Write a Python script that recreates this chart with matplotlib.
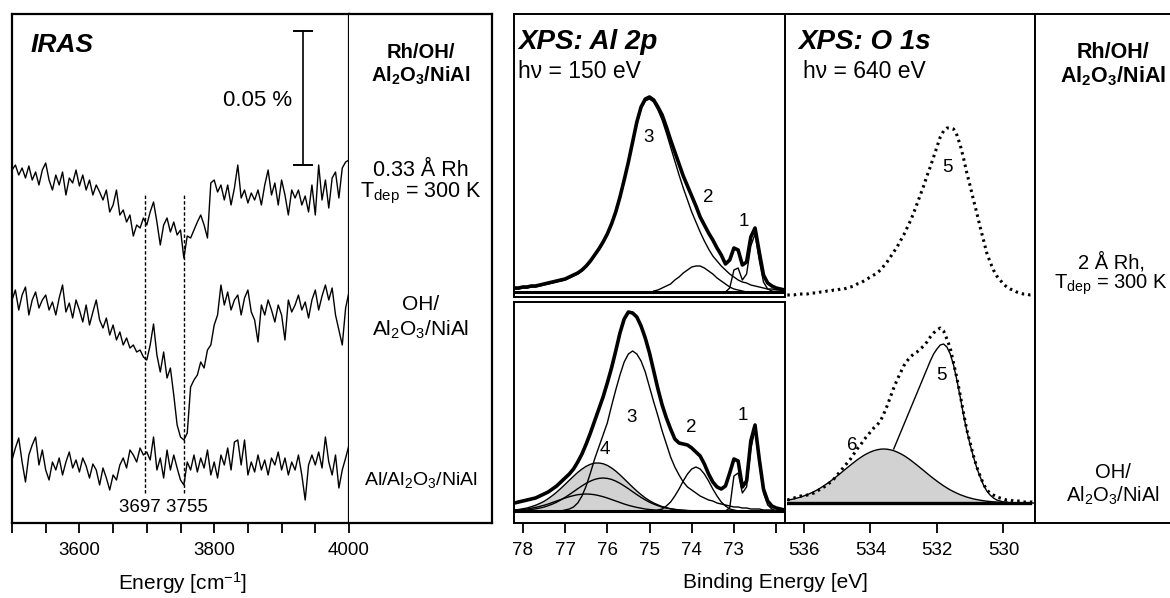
import numpy as np
import matplotlib
matplotlib.use("Agg")
import matplotlib.pyplot as plt
from matplotlib.ticker import MultipleLocator

plt.rcParams['font.family'] = ['Liberation Sans', 'DejaVu Sans']
plt.rcParams['mathtext.fontset'] = 'custom'
plt.rcParams['mathtext.rm'] = 'Liberation Sans'
plt.rcParams['mathtext.it'] = 'Liberation Sans:italic'
plt.rcParams['mathtext.bf'] = 'Liberation Sans:bold'

# ---------------- IRAS (3500 -> 4000 cm-1, every 5 cm-1) ----------------
IR_START, IR_STEP = 3500, 5
ir_rh = [10, 15, 5, 12, 2, 14, 0, 8, -5, 10,
         17, 0, -10, 5, -5, 8, -15, 2, -3, 10,
         -6, 5, -10, 0, -15, -5, -12, -20, -10, -32,
         -25, -10, -35, -30, -42, -35, -56, -45, -48, -38,
         -45, -32, -22, -42, -65, -45, -38, -52, -42, -55,
         -50, -78, -56, -58, -50, -42, -35, -45, -58, -3,
         0, -12, -5, -20, -5, -25, -8, 15, -18, -10,
         -23, -13, -20, -10, -25, -5, 10, -15, -3, -25,
         0, -15, -35, -10, -18, -10, -25, -16, -32, -5,
         -35, 15, -20, 0, -28, 2, 8, -18, 12, 18,
         20]
ir_oh = [5, 15, -5, 10, 18, -10, 5, 13, -3, 5,
         10, -5, 3, -10, 7, 20, -7, 2, -13, 5,
         -5, -17, 0, -20, -7, 5, -15, -23, -13, -30,
         -20, -35, -27, -40, -33, -43, -40, -47, -45, -52,
         -55, -40, -19, -50, -67, -47, -73, -63, -90, -120,
         -132, -135, -128, -82, -75, -70, -57, -63, -45, -40,
         -20, -10, 20, 0, 13, -5, 5, 10, -10, 7,
         15, -7, -15, -37, 0, -10, 5, -5, -17, 0,
         -10, -35, 5, -7, 0, 10, -5, 3, -13, 5,
         15, -5, 9, 20, 5, 17, -10, -25, -40, -3,
         13]
ir_al = [7, 19, 29, 5, -15, 12, 22, 30, 2, 17,
         -3, -13, 5, -3, 9, -8, 5, 15, -1, 7,
         -5, 9, 1, -11, 3, -3, -18, -1, -11, -23,
         -8, -13, 2, 9, -1, 17, 12, 5, 19, 12,
         15, 7, 30, -3, 9, -11, 17, -3, 12, -1,
         -13, -18, 5, -3, 12, -5, 9, -1, 17, -8,
         5, -11, 12, 2, 19, -3, 25, 27, 2, 27,
         -8, 5, -5, 12, -3, 7, -8, 9, 2, 15,
         -3, 9, -8, 5, -3, 12, -8, -33, 2, 12,
         2, 15, -1, 30, 5, -8, 12, -21, -3, 9,
         22]
ir_offsets = [343, 218, 56]
ir_bands = [3697, 3755]
ir_scale = 134          # length of the 0.05 % bar in plot units

# ---------------- XPS Al 2p (binding energy, 0.1 eV steps) ----------------
AL_START = 78.2
al_top = [4, 4, 5, 5, 6, 6, 7, 8, 9, 10,
          11, 12, 13, 15, 17, 19, 22, 26, 31, 37,
          43, 50, 58, 68, 80, 95, 112, 130, 150, 170,
          185, 193, 195, 192, 185, 177, 165, 152, 140, 128,
          116, 106, 96, 86, 75, 67, 59, 52, 44, 37,
          28, 32, 44, 42, 27, 30, 55, 64, 40, 17,
          9, 6, 4, 3, 2]
al_top_c3 = [3, 3, 4, 4, 5, 5, 6, 7, 8, 9,
             10, 11, 12, 14, 16, 18, 21, 25, 30, 36,
             42, 49, 57, 67, 79, 94, 111, 129, 149, 168,
             183, 191, 193, 190, 182, 172, 159, 145, 131, 117,
             104, 92, 80, 70, 60, 51, 43, 36, 31, 26,
             22, 18, 15, 12, 10, 9, 7, 6, 5, 4,
             3, 3, 2, 2, 1]
al_top_c2 = (74.9, [1, 2, 4, 6, 8, 12, 15, 19, 22, 25, 26, 26, 24, 21, 18,
                    14, 11, 8, 5, 3, 2, 1, 0])
al_top_c1 = (73.2, [0, 4, 22, 24, 12, 18, 46, 58, 32, 10, 3, 1, 0])

al_bot = [8, 9, 10, 11, 12, 13, 15, 17, 19, 22,
          25, 29, 33, 37, 42, 49, 57, 67, 78, 90,
          102, 114, 128, 143, 160, 178, 192, 199, 198, 194,
          185, 173, 158, 140, 122, 106, 93, 82, 72, 68,
          67, 66, 63, 59, 55, 47, 37, 29, 24, 22,
          25, 38, 52, 50, 24, 30, 70, 86, 52, 22,
          10, 5, 3, 2, 1]
al_bot_c3 = (77.2, [0, 0, 1, 2, 4, 8, 15, 25, 38, 52,
                    64, 76, 88, 105, 121, 136, 149, 157, 160, 157,
                    150, 139, 124, 109, 95, 80, 67, 54, 44, 36,
                    29, 24, 21, 18, 15, 13, 11, 10, 8, 7,
                    6, 5, 4, 4, 3, 3, 2, 2, 2, 1, 1, 1, 0])
al_bot_c2 = (74.8, [1, 2, 5, 9, 15, 22, 30, 37, 42, 44, 42, 37, 30, 22, 15,
                    9, 5, 2, 1, 0])
al_bot_c1 = (73.2, [0, 3, 35, 38, 18, 24, 62, 82, 48, 18, 6, 2, 0])
al_bot_c4a = [0.3, 0.4, 0.7, 1.0, 1.5, 2.1, 2.9, 3.9, 5.3, 6.9,
              8.8, 11.1, 13.6, 16.4, 19.3, 22.3, 25.1, 27.7, 29.9, 31.6,
              32.6, 33, 32.6, 31.6, 29.9, 27.7, 25.1, 22.3, 19.3, 16.4,
              13.6, 11.1, 8.8, 6.9, 5.3, 3.9, 2.9, 2.1, 1.5, 1.0,
              0.7, 0.4, 0.3, 0.2, 0.1, 0]
al_bot_c4b = [0.8, 1.1, 1.5, 2.0, 2.8, 3.6, 4.6, 5.7, 7.0, 8.5,
              10, 11.5, 13, 14.3, 15.4, 16.3, 16.8, 17, 16.8, 16.3,
              15.4, 14.3, 13, 11.5, 10, 8.5, 7, 5.7, 4.6, 3.6,
              2.8, 2.0, 1.5, 1.1, 0.8, 0.5, 0.4, 0.2, 0.1, 0,
              0, 0, 0, 0, 0, 0]

# ---------------- XPS O 1s ----------------
O_START = 536.5
o_top = [2, 2, 2, 3, 3, 3, 3, 4, 4, 4,
         5, 5, 6, 6, 7, 7, 8, 8, 9, 10,
         11, 13, 14, 16, 18, 20, 22, 24, 27, 31,
         35, 40, 45, 50, 56, 62, 69, 76, 84, 93,
         102, 111, 121, 130, 140, 150, 160, 166, 169, 169,
         168, 162, 152, 139, 124, 111, 97, 84, 70, 57,
         44, 35, 27, 21, 17, 13, 10, 8, 7, 5,
         4, 3, 3, 2, 2]
o_bot = [3, 4, 5, 6, 7, 7, 8, 9, 10, 12,
         14, 16, 18, 21, 24, 28, 32, 36, 40, 44,
         49, 54, 58, 63, 67, 71, 75, 78, 82, 89,
         97, 106, 115, 123, 130, 137, 142, 146, 149, 151,
         154, 157, 161, 166, 170, 173, 175, 172, 164, 155,
         140, 125, 108, 90, 73, 60, 47, 36, 27, 19,
         13, 10, 8, 6, 5, 4, 3, 3, 2, 2,
         2, 1, 1, 1, 1]
o_c6 = [2.8, 3.4, 4.1, 5.0, 5.9, 7.1, 8.3, 9.8, 11.4, 13.1,
        15.1, 17.2, 19.5, 21.9, 24.4, 27.0, 29.7, 32.5, 35.2, 37.9,
        40.5, 43.1, 45.4, 47.6, 49.4, 51.0, 52.3, 53.2, 53.8, 54,
        53.8, 53.2, 52.3, 51.0, 49.4, 47.6, 45.4, 43.1, 40.5, 37.9,
        35.2, 32.5, 29.7, 27.0, 24.4, 21.9, 19.5, 17.2, 15.1, 13.1,
        11.4, 9.8, 8.3, 7.1, 5.9, 5.0, 4.1, 3.4, 2.8, 2.3,
        1.8, 1.5, 1.2, 0.9, 0.7, 0.6, 0.4, 0.3, 0.2, 0.2,
        0.1, 0.1, 0, 0, 0]
o_c5 = (533.3, [54, 62, 70, 78, 86, 94, 102, 110, 118, 126,
                134, 142, 149, 154, 158, 159, 156, 149, 138, 123,
                106, 88, 72, 58, 46, 35, 26, 18, 12, 8,
                5, 3, 2, 1, 1, 0, 0, 0])
o_top_offset = 206


def be(start, n):
    return start - 0.1 * np.arange(n)


W, H = 1170, 598
fig = plt.figure(figsize=(W / 100, H / 100), dpi=100)


def rect(x0, y0, x1, y1):
    return [x0 / W, 1 - y1 / H, (x1 - x0) / W, (y1 - y0) / H]


def frame(ax, lw=1.5):
    for s in ax.spines.values():
        s.set_linewidth(lw)


def label_axes(ax):
    ax.set_xticks([])
    ax.set_yticks([])
    frame(ax)


def col_text(a, xc, ypx, s, size, bold=False):
    a.text(xc, (523 - ypx) / 509, s, transform=a.transAxes, ha='center',
           va='center', fontsize=size, fontweight='bold' if bold else 'normal')


NUM = 13.5
TICK = dict(direction='out', length=7, width=1.3, labelsize=13.5, pad=7)

# ---------------- IRAS panel ----------------
ax = fig.add_axes(rect(12, 14, 349, 523))
wn = IR_START + IR_STEP * np.arange(len(ir_rh))
for trace, off in zip([ir_rh, ir_oh, ir_al], ir_offsets):
    ax.plot(wn, np.array(trace) + off, color='black', lw=1.0)
ax.vlines(ir_bands, 30, 330, colors='black', lw=1, linestyles=(0, (2.5, 1.5)))
ax.text(3725, 15, "3697 3755", ha='center', va='center', fontsize=13.5)
ax.plot([3932, 3932], [358, 358 + ir_scale], color='black', lw=1.2)
ax.plot([3932, 3932], [358, 358 + ir_scale], ls='none', marker='_',
        ms=14, mew=1.4, color='black')
ax.text(3915, 423, "0.05 %", ha='right', va='center', fontsize=16)
ax.text(3527, 478, "IRAS", ha='left', va='center', fontsize=19,
        fontweight='bold', style='italic')
ax.set_xlim(3500, 4000)
ax.set_ylim(0, 509)
ax.set_yticks([])
ax.set_xticks([3600, 3800, 4000])
ax.xaxis.set_minor_locator(MultipleLocator(50))
ax.tick_params(axis='x', which='both', **TICK)
ax.tick_params(axis='x', which='minor', length=7, width=1.3)
frame(ax, 1.6)
fig.text(183 / W, 1 - 583 / H, "Energy [cm$^\\mathregular{-1}$]",
         ha='center', va='center', fontsize=15)

# IRAS label column
axl = fig.add_axes(rect(349, 14, 492, 523))
label_axes(axl)
axl.spines['left'].set_visible(False)
frame(axl, 1.6)
col_text(axl, 0.5, 52, "Rh/OH/", 14.5, True)
col_text(axl, 0.5, 76, "Al$_\\mathbf{2}$O$_\\mathbf{3}$/NiAl", 14.5, True)
col_text(axl, 0.5, 170, "0.33 Å Rh", 15.5)
col_text(axl, 0.5, 193, "T$_\\mathregular{dep}$ = 300 K", 15.5)
col_text(axl, 0.5, 305, "OH/", 15)
col_text(axl, 0.5, 330, "Al$_2$O$_3$/NiAl", 15)
col_text(axl, 0.5, 480, "Al/Al$_2$O$_3$/NiAl", 14)

# ---------------- XPS Al 2p, upper ----------------
a1 = fig.add_axes(rect(514, 14, 785, 297))
x = be(AL_START, len(al_top))
a1.axhline(0, color='black', lw=2.2)
a1.plot(x, al_top_c3, color='black', lw=1)
for start, vals in [al_top_c2, al_top_c1]:
    a1.plot(be(start, len(vals)), vals, color='black', lw=1)
a1.plot(x, al_top, color='black', lw=2.6)
a1.set_xlim(78.21, 71.79)
a1.set_ylim(-5, 278)
a1.set_xticks([])
a1.set_yticks([])
frame(a1, 1.4)
a1.text(78.12, 250, "XPS: Al 2p", fontsize=20, fontweight='bold',
        style='italic', ha='left', va='center')
a1.text(78.12, 220, "hν = 150 eV", fontsize=16.5, ha='left', va='center')
for lab, bx, iy in [("3", 75.02, 155), ("2", 73.6, 94), ("1", 72.76, 70)]:
    a1.text(bx, iy, lab, fontsize=NUM, ha='center', va='center')

# ---------------- XPS Al 2p, lower ----------------
a2 = fig.add_axes(rect(514, 302, 785, 523))
x = be(AL_START, len(al_bot))
c4a = np.array(al_bot_c4a)
c4b = np.array(al_bot_c4b)
x4 = be(AL_START, len(c4a))
a2.fill_between(x4, 0, c4a + c4b, color='#d2d2d2', lw=0)
a2.plot(x4, c4a + c4b, color='black', lw=1)
a2.plot(x4, c4a, color='black', lw=1)
a2.plot(x4, c4b, color='black', lw=1)
a2.axhline(0, color='black', lw=2.2)
for start, vals in [al_bot_c3, al_bot_c2, al_bot_c1]:
    a2.plot(be(start, len(vals)), vals, color='black', lw=1)
a2.plot(x, al_bot, color='black', lw=2.6)
a2.set_xlim(78.21, 71.79)
a2.set_ylim(-12, 209)
a2.set_yticks([])
a2.set_xticks([78, 77, 76, 75, 74, 73, 72])
a2.set_xticklabels(['78', '77', '76', '75', '74', '73', ''])
a2.tick_params(axis='x', **TICK)
frame(a2, 1.4)
for lab, bx, iy in [("4", 76.05, 61), ("3", 75.43, 93), ("2", 74.02, 84),
                    ("1", 72.79, 96)]:
    a2.text(bx, iy, lab, fontsize=NUM, ha='center', va='center')

# ---------------- XPS O 1s ----------------
a3 = fig.add_axes(rect(787, 14, 1035, 523))
xo = be(O_START, len(o_top))
a3.fill_between(be(O_START, len(o_c6)), 0, o_c6, color='#d2d2d2', lw=0)
a3.plot(be(O_START, len(o_c6)), o_c6, color='black', lw=1)
a3.plot(be(o_c5[0], len(o_c5[1])), o_c5[1], color='black', lw=1)
a3.plot([536.5, 529.2], [0, 0], color='black', lw=2.4)
dots = dict(color='black', lw=2.2, ls=(0, (0.8, 1.3)))
a3.plot(xo, np.array(o_bot), **dots)
a3.plot(xo, np.array(o_top) + o_top_offset, **dots)
a3.set_xlim(536.51, 529.05)
a3.set_ylim(-20, 489)
a3.set_yticks([])
a3.set_xticks([536, 534, 532, 530])
a3.tick_params(axis='x', **TICK)
frame(a3, 1.4)
a3.spines['left'].set_visible(False)
a3.text(536.16, 461, "XPS: O 1s", fontsize=20, fontweight='bold',
        style='italic', ha='left', va='center')
a3.text(536.04, 431, "hν = 640 eV", fontsize=16.5, ha='left', va='center')
for lab, bx, iy in [("5", 531.67, 336), ("5", 531.85, 127), ("6", 534.56, 57)]:
    a3.text(bx, iy, lab, fontsize=NUM, ha='center', va='center')

fig.text(775 / W, 1 - 583 / H, "Binding Energy [eV]", ha='center',
         va='center', fontsize=15)

# right label column
ar = fig.add_axes(rect(1035, 14, 1170, 523))
label_axes(ar)
frame(ar, 1.4)
ar.spines['right'].set_visible(False)
col_text(ar, 0.575, 52, "Rh/OH/", 15.5, True)
col_text(ar, 0.575, 76, "Al$_\\mathbf{2}$O$_\\mathbf{3}$/NiAl", 15.5, True)
col_text(ar, 0.565, 262, "2 Å Rh,", 14.5)
col_text(ar, 0.565, 285, "T$_\\mathregular{dep}$ = 300 K", 14.5)
col_text(ar, 0.575, 472, "OH/", 14.5)
col_text(ar, 0.575, 496, "Al$_2$O$_3$/NiAl", 14.5)

fig.savefig("out.png", dpi=100)
